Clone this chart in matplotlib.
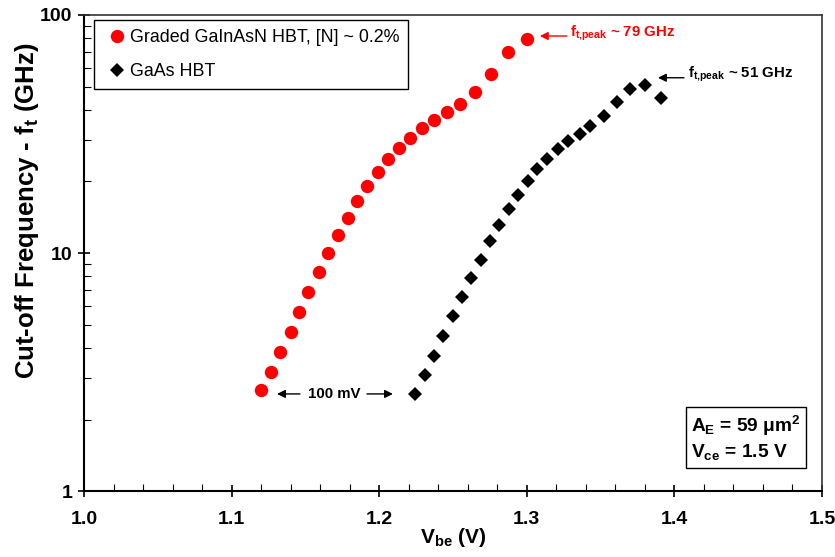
import matplotlib
matplotlib.use('Agg')
import matplotlib.pyplot as plt
from matplotlib import font_manager
from matplotlib.ticker import MultipleLocator, LogLocator, NullFormatter, FormatStrFormatter

names = {f.name for f in font_manager.fontManager.ttflist}
NARROW = 'Liberation Sans Narrow' if 'Liberation Sans Narrow' in names else 'Liberation Sans'

plt.rcParams['font.family'] = ['Liberation Sans', 'DejaVu Sans']
plt.rcParams['mathtext.fontset'] = 'custom'
plt.rcParams['mathtext.rm'] = 'Liberation Sans'
plt.rcParams['mathtext.bf'] = 'Liberation Sans:bold'
plt.rcParams['mathtext.sf'] = NARROW + ':bold'

# graded GaInAsN HBT
vbe_gainasn = [1.120, 1.127, 1.133, 1.140, 1.146, 1.152, 1.159, 1.165, 1.172, 1.179,
               1.185, 1.192, 1.199, 1.206, 1.2135, 1.221, 1.229, 1.237, 1.246, 1.255,
               1.265, 1.276, 1.287, 1.300]
ft_gainasn = [2.66, 3.18, 3.86, 4.68, 5.66, 6.87, 8.31, 9.99, 11.9, 14.1,
              16.6, 19.1, 21.9, 24.8, 27.6, 30.5, 33.4, 36.2, 39.1, 42.3,
              47.4, 56.4, 69.8, 79.5]

# GaAs HBT
vbe_gaas = [1.224, 1.231, 1.237, 1.243, 1.250, 1.256, 1.262, 1.269, 1.275, 1.281,
            1.288, 1.294, 1.301, 1.307, 1.314, 1.321, 1.328, 1.336, 1.343, 1.352,
            1.361, 1.370, 1.380, 1.391]
ft_gaas = [2.56, 3.07, 3.71, 4.48, 5.43, 6.54, 7.84, 9.39, 11.2, 13.1,
           15.3, 17.6, 20.0, 22.5, 24.9, 27.3, 29.6, 31.7, 34.3, 37.8,
           43.1, 48.8, 50.8, 45.0]

fig = plt.figure(figsize=(8.35, 5.57), dpi=100)
ax = fig.add_axes([0.1006, 0.118, 0.8838, 0.8551])

ax.plot(vbe_gainasn, ft_gainasn, 'o', color='#ff0000', markersize=9.6, markeredgewidth=0,
        label='Graded GaInAsN HBT, [N] ~ 0.2%')
ax.plot(vbe_gaas, ft_gaas, 'D', color='black', markersize=7.6, markeredgewidth=0,
        label='GaAs HBT')

ax.set_yscale('log')
ax.set_xlim(1.0, 1.5)
ax.set_ylim(1, 100)

ax.xaxis.set_major_locator(MultipleLocator(0.1))
ax.xaxis.set_minor_locator(MultipleLocator(0.02))
ax.xaxis.set_major_formatter(FormatStrFormatter('%.1f'))
ax.set_yticks([1, 10, 100])
ax.set_yticklabels(['1', '10', '100'])
ax.yaxis.set_minor_locator(LogLocator(subs=range(2, 10)))
ax.yaxis.set_minor_formatter(NullFormatter())

ax.tick_params(which='major', direction='inout', length=9, width=1.2, top=False, right=False)
ax.tick_params(which='minor', direction='in', length=5, width=0.8, top=False, right=False)
ax.tick_params(axis='x', which='major', pad=10)
ax.tick_params(axis='y', which='major', pad=4)
for lab in ax.get_xticklabels() + ax.get_yticklabels():
    lab.set_family([NARROW, 'Liberation Sans'])
    lab.set_fontweight('bold')
    lab.set_fontsize(14)

for s in ['left', 'bottom']:
    ax.spines[s].set_linewidth(1.5)
for s in ['top', 'right']:
    ax.spines[s].set_linewidth(1.2)
    ax.spines[s].set_color('#333333')

ax.set_xlabel(r'$\mathsf{V_{be}}$' + ' (V)', family=[NARROW, 'Liberation Sans'],
              fontweight='bold', fontsize=15)
ax.xaxis.set_label_coords(0.5, -0.073)
ax.set_ylabel(r'Cut-off Frequency - $\mathbf{f_t}$ (GHz)', fontweight='bold', fontsize=18.5)
ax.yaxis.set_label_coords(-0.058, 0.59)

leg = ax.legend(loc='upper left', bbox_to_anchor=(0.0131, 0.9895), borderaxespad=0,
                fancybox=False, edgecolor='black', framealpha=1, fontsize=12.9,
                numpoints=1, handlelength=1.6, handletextpad=-0.1, borderpad=0.5,
                labelspacing=0.95)
leg.get_frame().set_linewidth(1.0)
leg.legend_handles[1].set_markersize(7.5)

arrow_kw = dict(arrowstyle='-|>', lw=1.0, mutation_scale=12, shrinkA=0, shrinkB=0)

# peak annotations
ax.annotate('', xy=(1.3089, 81.6), xytext=(1.3272, 81.6),
            arrowprops=dict(color='#ff0000', **arrow_kw))
ax.text(1.3293, 81.1, r'$\mathbf{f_{t{,}peak}}$ ~ 79 GHz', color='#ff0000',
        fontweight='bold', fontsize=10.8, ha='left', va='baseline')
ax.annotate('', xy=(1.3889, 54.5), xytext=(1.4065, 54.5),
            arrowprops=dict(color='black', **arrow_kw))
ax.text(1.4092, 54.7, r'$\mathbf{f_{t{,}peak}}$ ~ 51 GHz', color='black',
        fontweight='bold', fontsize=10.8, ha='left', va='baseline')

# 100 mV shift
ax.annotate('', xy=(1.1308, 2.563), xytext=(1.1463, 2.563),
            arrowprops=dict(color='black', **arrow_kw))
ax.annotate('', xy=(1.2093, 2.563), xytext=(1.1917, 2.563),
            arrowprops=dict(color='black', **arrow_kw))
ax.text(1.1694, 2.563, '100 mV', fontweight='bold', fontsize=10.8, ha='center', va='center')

# device info box
ax.text(1.4485, 1.674, r'$\mathbf{A_E}$ = 59 μm$\mathbf{^2}$' + '\n' + r'$\mathbf{V_{ce}}$ = 1.5 V',
        fontweight='bold', fontsize=13.8, ha='center', va='center', multialignment='left',
        linespacing=1.3,
        bbox=dict(boxstyle='square,pad=0.3', facecolor='white', edgecolor='black', lw=1.0))

fig.savefig('out.png', dpi=100)
